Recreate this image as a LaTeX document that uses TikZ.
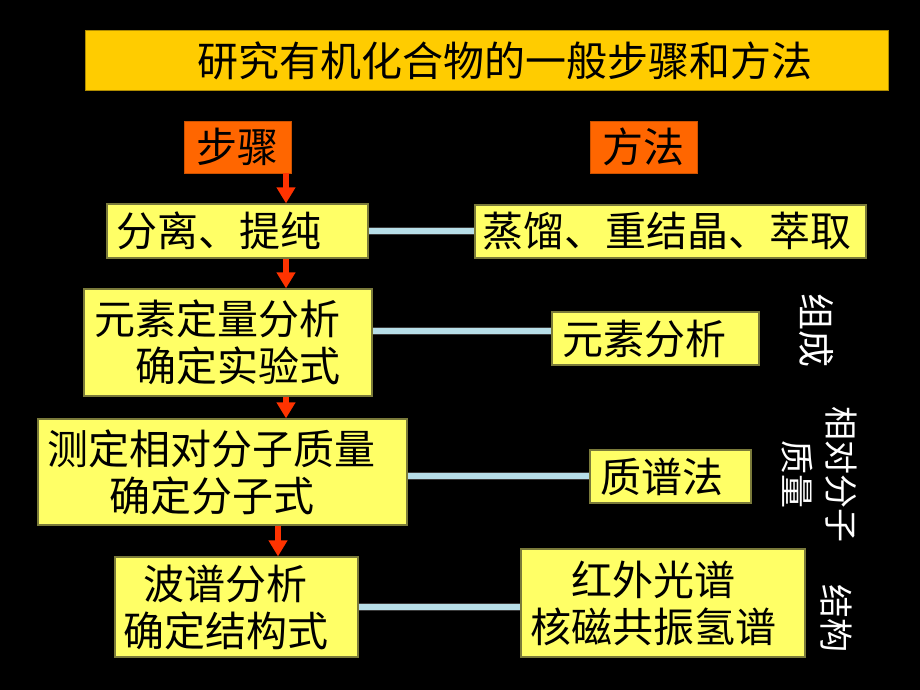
\documentclass[tikz,border=0pt]{standalone}
\usepackage{fontspec}
\setmainfont{Noto Sans CJK SC}
\usetikzlibrary{arrows.meta}
\definecolor{titlebg}{HTML}{FFCC00}
\definecolor{titleline}{HTML}{B08C00}
\definecolor{orangebg}{HTML}{FF6600}
\definecolor{boxbg}{HTML}{FFFF66}
\definecolor{boxline}{HTML}{7A7A3A}
\definecolor{arrowred}{HTML}{FF3300}
\definecolor{connfill}{HTML}{B7DEE8}
\definecolor{connline}{HTML}{3A3A3A}
\begin{document}
\begin{tikzpicture}[x=1pt,y=-1pt,
  base/.style={inner xsep=0pt, inner ysep=0pt, align=left, font=\fontsize{41}{47}\selectfont},
  box/.style={base, draw=boxline, line width=1.2pt, fill=boxbg},
  headbox/.style={base, draw=orangebg!80!black, line width=0.8pt, fill=orangebg, align=center},
  titlebox/.style={base, draw=titleline, line width=1pt, fill=titlebg, font=\fontsize{41}{48}\selectfont},
  dim/.style 2 args={text width=#1pt, minimum height=#2pt},
  conn/.style={draw=connline, line width=1pt, double=connfill, double distance=6pt},
  flow/.style={draw=arrowred, line width=6pt, -{Triangle[length=16pt,width=18pt]}},
  side/.style={text=white, rotate=-90, align=center, inner sep=0pt}
]
\fill[black] (0,0) rectangle (920,690);
\path[use as bounding box] (0,0) rectangle (920,690);

\node[titlebox, dim={803}{60}] (title) at (486.5,61) {\hspace*{112pt}研究有机化合物的一般步骤和方法};

\node[headbox, dim={107}{52}] (steps) at (237.5,147) {步骤};
\node[headbox, dim={107}{52}] (meths) at (643.5,147) {方法};

\node[box, dim={261}{54}] (b1) at (237.5,231) {\hspace*{9pt}分离、提纯};
\node[box, dim={391}{53}] (m1) at (670.5,231.5) {\hspace*{7pt}蒸馏、重结晶、萃取};

\node[box, dim={288}{107}] (b2) at (228,342.5) {\hspace*{10pt}元素定量分析\\\hspace*{51pt}确定实验式};
\node[box, dim={207}{53}] (m2) at (655.5,338.5) {\hspace*{10pt}元素分析};

\node[box, dim={369}{106}] (b3) at (222.5,472) {\hspace*{9pt}测定相对分子质量\\\hspace*{71pt}确定分子式};
\node[box, dim={161}{53}] (m3) at (670.5,476.5) {\hspace*{10pt}质谱法};

\node[box, dim={243}{100}] (b4) at (236.5,607) {\hspace*{28pt}波谱分析\\\hspace*{8pt}确定结构式};
\node[box, dim={284}{108}] (m4) at (663,603) {\hspace*{50pt}红外光谱\\\hspace*{9pt}核磁共振氢谱};

\node[side, font=\fontsize{37}{44}\selectfont] (zc) at (816,330) {组成};
\node[side, font=\fontsize{34}{44}\selectfont] (xd) at (819,474) {相对分子\\质量};
\node[side, font=\fontsize{34}{44}\selectfont] (jg) at (836,618) {结构};

\coordinate (ax1) at (286,0);
\coordinate (ax2) at (278,0);
\coordinate (y1) at (0,231);
\coordinate (y2) at (0,331);
\coordinate (y3) at (0,476);
\coordinate (y4) at (0,607);

\draw[flow] (steps.south -| ax1) -- (b1.north -| ax1);
\draw[flow] (b1.south -| ax1) -- (b2.north -| ax1);
\draw[flow] (b2.south -| ax1) -- (b3.north -| ax1);
\draw[flow] (b3.south -| ax2) -- (b4.north -| ax2);

\draw[conn] (b1.east |- y1) -- (m1.west |- y1);
\draw[conn] (b2.east |- y2) -- (m2.west |- y2);
\draw[conn] (b3.east |- y3) -- (m3.west |- y3);
\draw[conn] (b4.east |- y4) -- (m4.west |- y4);
\end{tikzpicture}
\end{document}
